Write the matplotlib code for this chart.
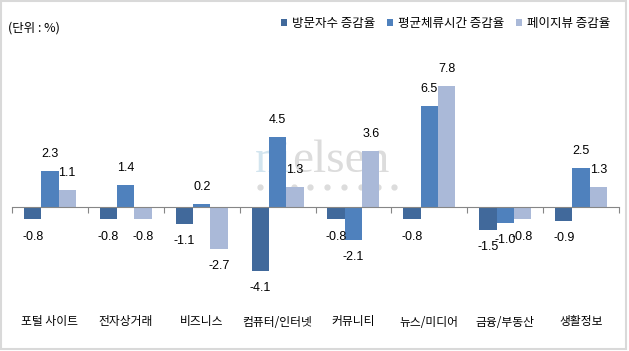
import matplotlib
matplotlib.use("Agg")
import matplotlib.pyplot as plt
import matplotlib.transforms as mtransforms
from matplotlib.patches import Patch, Rectangle
import numpy as np

plt.rcParams["font.family"] = ["Noto Sans CJK KR", "DejaVu Sans"]

# ---------------------------------------------------------------------------
# Data (%)
# ---------------------------------------------------------------------------
CATEGORIES = ["포털 사이트", "전자상거래", "비즈니스", "컴퓨터/인터넷",
              "커뮤니티", "뉴스/미디어", "금융/부동산", "생활정보"]
SERIES_NAMES = ["방문자수 증감율", "평균체류시간 증감율", "페이지뷰 증감율"]
VISITORS = [-0.8, -0.8, -1.1, -4.1, -0.8, -0.8, -1.5, -0.9]
DWELL_TIME = [2.3, 1.4, 0.2, 4.5, -2.1, 6.5, -1.0, 2.5]
PAGE_VIEWS = [1.1, -0.8, -2.7, 1.3, 3.6, 7.8, -0.8, 1.3]

COLORS = ["#41699B", "#4F81BD", "#AAB9D8"]

W, H = 629, 351
fig = plt.figure(figsize=(W / 100, H / 100), dpi=100)

# plot area in pixels: x 12..619, zero at y=207, 15.5 px per unit
ymin, ymax = -5.5, 8.5
top_px = 207 - ymax * 15.5
bot_px = 207 - ymin * 15.5
ax = fig.add_axes([12 / W, (H - bot_px) / H, 607 / W, (bot_px - top_px) / H])
ax.patch.set_alpha(0)

# watermark (inside the axes so the bars sit on top of it)
wm = ax.text(255 / W, (H - 172) / H, "ni", fontsize=34, color="#D3E5EF",
             family="Liberation Serif", va="baseline", zorder=0,
             transform=fig.transFigure, clip_on=False)
ax.annotate("elsen", xy=(1, 0), xycoords=wm, va="bottom", fontsize=34,
            color="#DCDCDC", family="Liberation Serif", zorder=0,
            annotation_clip=False)
dot_x = (260 + 16.8 * np.arange(9)) / W
ax.plot(dot_x, np.full(9, (H - 187) / H), ls="none", marker="o", ms=3.5,
        color="#DCDCDC", transform=fig.transFigure, zorder=0, clip_on=False)

x = np.arange(len(CATEGORIES))
bw = 0.228
series = [VISITORS, DWELL_TIME, PAGE_VIEWS]
for k, (vals, col) in enumerate(zip(series, COLORS)):
    pos = x + (k - 1) * bw
    ax.bar(pos, vals, width=bw, color=col, zorder=2)
    for px, v in zip(pos, vals):
        ax.annotate(f"{v:.1f}", (px, v), xytext=(0, 8 if v >= 0 else -8),
                    textcoords="offset points", ha="center",
                    va="bottom" if v >= 0 else "top", zorder=4,
                    fontsize=9, family="Liberation Sans", color="#000000")

ax.set_xlim(-0.5, len(CATEGORIES) - 0.5)
ax.set_ylim(ymin, ymax)
for s in ["top", "right", "left"]:
    ax.spines[s].set_visible(False)
ax.spines["bottom"].set_position(("data", 0))
ax.spines["bottom"].set_color("#868686")
ax.spines["bottom"].set_zorder(3)
ax.set_yticks([])
ax.set_xticks(np.arange(len(CATEGORIES) + 1) - 0.5)
ax.set_xticklabels([])
ax.tick_params(axis="x", length=4, color="#868686", direction="out")

# category labels in a row under the plot area
label_tf = mtransforms.blended_transform_factory(ax.transData, fig.transFigure)
for xi, c in zip(x, CATEGORIES):
    ax.text(xi, (H - 322) / H, c, ha="center", va="center", fontsize=8.5,
            transform=label_tf, clip_on=False)

fig.text(8 / W, (H - 28) / H, "(단위 : %)", ha="left", va="center",
         fontsize=9)

handles = [Patch(facecolor=c, edgecolor="none") for c in COLORS]
fig.legend(handles, SERIES_NAMES, loc="center right",
           bbox_to_anchor=(610 / W, (H - 23) / H), ncol=3, frameon=False,
           fontsize=9, handlelength=0.5, handleheight=0.5,
           handletextpad=0.4, columnspacing=0.9, borderaxespad=0,
           borderpad=0)

fig.patches.append(Rectangle((0.5 / W, 2.5 / H), 625.5 / W, 348 / H,
                             transform=fig.transFigure, fill=False,
                             edgecolor="#D9D9D9", linewidth=1.5))

fig.savefig("out.png", dpi=100)
